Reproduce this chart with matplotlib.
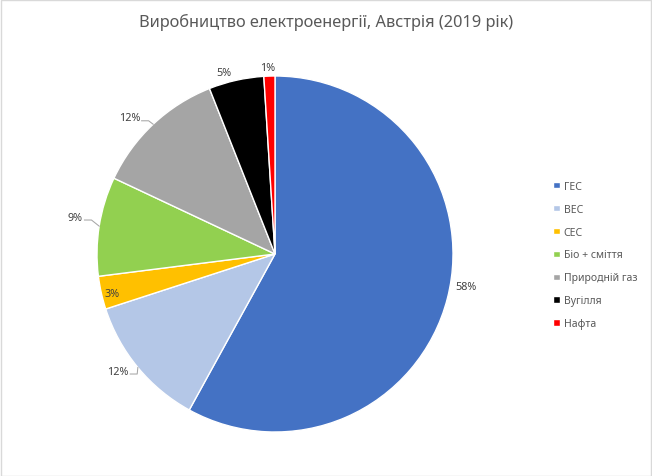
import numpy as np
import matplotlib
matplotlib.use("Agg")
import matplotlib.pyplot as plt
from matplotlib.patches import Rectangle

plt.rcParams["font.family"] = ["Noto Sans", "DejaVu Sans"]

# data
sources = ["ГЕС", "ВЕС", "СЕС", "Біо + сміття", "Природній газ", "Вугілля", "Нафта"]
shares = [58, 12, 3, 9, 12, 5, 1]
colors = ["#4472C4", "#B4C7E7", "#FFC000", "#92D050", "#A5A5A5", "#000000", "#FF0000"]
title = "Виробництво електроенергії, Австрія (2019 рік)"

# label placement: distance from centre (radii), clockwise nudge (deg), leader line
label_r = [1.09, 1.10, 0.94, 1.14, 1.12, 1.06, 1.05]
label_nudge = [-4.9, 2.9, -1.2, 1.5, -3.7, -3.0, -0.6]
leader = [False, True, False, True, True, False, False]

W, H = 652, 477
fig = plt.figure(figsize=(W / 100, H / 100), dpi=100)
fig.patch.set_facecolor("white")
fig.add_artist(Rectangle((0.5 / W, 0.5 / H), 1 - 1.5 / W, 1 - 1.5 / H, transform=fig.transFigure,
                         fill=False, edgecolor="#D9D9D9", linewidth=1))

cx, cy, R = 275, 255, 178
ax = fig.add_axes([(cx - R) / W, (H - cy - R) / H, 2 * R / W, 2 * R / H])

wedges, _ = ax.pie(shares, colors=colors, startangle=90, counterclock=False,
                   radius=1.0, wedgeprops=dict(edgecolor="white", linewidth=1.0))
ax.set_xlim(-1, 1)
ax.set_ylim(-1, 1)
ax.set_aspect("equal")
ax.axis("off")

px = 1.0 / R  # one pixel in data units
texts = []
for w, val, r, nd in zip(wedges, shares, label_r, label_nudge):
    mid = np.deg2rad((w.theta1 + w.theta2) / 2 - nd)
    t = ax.text(r * np.cos(mid), r * np.sin(mid), f"{val}%", ha="center", va="center",
                fontsize=7.8, color="#404040")
    texts.append(t)

fig.canvas.draw()
renderer = fig.canvas.get_renderer()
for w, t, ld in zip(wedges, texts, leader):
    if not ld:
        continue
    bb = t.get_window_extent(renderer).transformed(ax.transData.inverted())
    mid = np.deg2rad((w.theta1 + w.theta2) / 2)
    ex, ey = np.cos(mid), np.sin(mid)
    sx = bb.x1 + 1.5 * px
    sy = (bb.y0 + bb.y1) / 2 - 3 * px
    kx = sx + 7 * px
    ax.plot([sx, kx, ex], [sy, sy, ey], color="#A6A6A6", linewidth=0.75, clip_on=False)

fig.text(0.5, 1 - 22 / H, title, ha="center", va="center", fontsize=11.8, color="#595959")

fig.legend(wedges, sources, loc="center left", bbox_to_anchor=(544 / W, 1 - 256 / H),
           frameon=False, fontsize=7.5, labelcolor="#595959", handlelength=0.6, handleheight=0.6,
           handletextpad=0.4, labelspacing=1.15)

fig.savefig("out.png", dpi=100)
